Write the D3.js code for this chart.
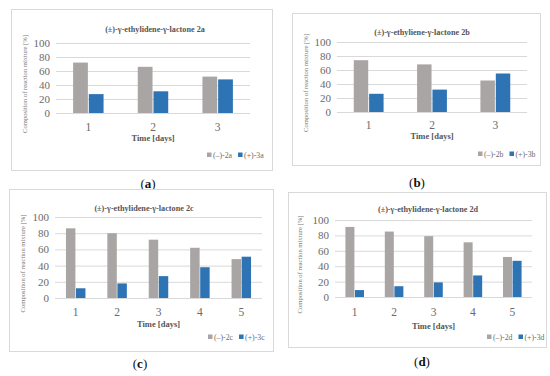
<!DOCTYPE html>
<html>
<head>
<meta charset="utf-8">
<script src="https://cdn.jsdelivr.net/npm/d3@7"></script>
<style>
  body { margin: 0; background: #fff; }
  svg { display: block; font-family: "Liberation Serif", "DejaVu Serif", serif; }
</style>
</head>
<body>
<svg id="chart" width="550" height="376"></svg>
<script>
// data
const days3 = ["1", "2", "3"];
const days5 = ["1", "2", "3", "4", "5"];
const yTicks = [0, 20, 40, 60, 80, 100];

const minus2a = [72, 66, 52];
const plus3a = [27, 31, 48];
const minus2b = [74, 68, 45];
const plus3b = [26, 32, 55];
const minus2c = [86, 80, 72, 62, 48];
const plus3c = [12, 18, 27, 38, 51];
const minus2d = [91, 85, 79, 71, 52];
const plus3d = [9, 14, 19, 28, 47];

const titles = [
  "(±)-γ-ethylidene-γ-lactone 2a",
  "(±)-γ-ethyliene-γ-lactone 2b",
  "(±)-γ-ethylidene-γ-lactone 2c",
  "(±)-γ-ethylidene-γ-lactone 2d"
];
const legendNames = [
  ["(–)-2a", "(+)-3a"],
  ["(–)-2b", "(+)-3b"],
  ["(–)-2c", "(+)-3c"],
  ["(–)-2d", "(+)-3d"]
];
const captions = ["a", "b", "c", "d"];

const colors = ["#a8a5a4", "#2e74b5"];

// layout for each of the four panels
const panels = [
  { days: days3, series: [minus2a, plus3a], frame: [11, 9, 272, 170], px: [56, 250], py: [43, 113],
    titleX: 155, titleY: 29, yLabX: 25, tickY: 127, axisY: 138, legX: 207, legY: 155, capX: 148, capY: 183 },
  { days: days3, series: [minus2b, plus3b], frame: [292, 13, 540, 165], px: [337, 527], py: [42, 112],
    titleX: 422, titleY: 32, yLabX: 306, tickY: 125, axisY: 136, legX: 478, legY: 154, capX: 417, capY: 182 },
  { days: days5, series: [minus2c, plus3c], frame: [9, 189, 273, 351], px: [55, 262], py: [217, 298],
    titleX: 144, titleY: 208, yLabX: 23, tickY: 312, axisY: 324, legX: 208, legY: 337, capX: 140, capY: 363 },
  { days: days5, series: [minus2d, plus3d], frame: [288, 192, 546, 347], px: [335, 532], py: [220, 297],
    titleX: 428, titleY: 209, yLabX: 300, tickY: 312, axisY: 326, legX: 487, legY: 337, capX: 422, capY: 361 }
];

const svg = d3.select("#chart");

panels.forEach((p, k) => {
  const g = svg.append("g").attr("class", "panel");
  const [fx0, fy0, fx1, fy1] = p.frame;

  g.append("rect")
    .attr("x", fx0 + 0.5).attr("y", fy0 + 0.5)
    .attr("width", fx1 - fx0).attr("height", fy1 - fy0)
    .attr("fill", "#fff")
    .attr("stroke", "#d9d9d9");

  const x0 = d3.scaleBand().domain(p.days).range(p.px).paddingInner(0.5).paddingOuter(0.25);
  const x1 = d3.scaleBand().domain([0, 1]).range([0, x0.bandwidth()]).padding(0.06);
  const y = d3.scaleLinear().domain([0, 100]).range([p.py[1], p.py[0]]);

  // gridlines + tick labels
  const yAxis = d3.axisLeft(y).tickValues(yTicks).tickSize(-(p.px[1] - p.px[0])).tickPadding(6);
  const ya = g.append("g").attr("transform", `translate(${p.px[0]},0)`).call(yAxis);
  ya.select(".domain").remove();
  ya.selectAll(".tick line").attr("stroke", "#d9d9d9");
  ya.selectAll(".tick text")
    .attr("fill", "#6a6a6a")
    .style("font-size", "11px")
    .style("font-family", "Liberation Serif, serif");

  // bars
  p.days.forEach((d, i) => {
    g.selectAll(null)
      .data(p.series.map((s, j) => ({ j, v: s[i] })))
      .enter()
      .append("rect")
      .attr("x", e => x0(d) + x1(e.j))
      .attr("y", e => y(e.v))
      .attr("width", x1.bandwidth())
      .attr("height", e => y(0) - y(e.v))
      .attr("fill", e => colors[e.j]);
  });

  // x tick labels
  g.selectAll(null)
    .data(p.days)
    .enter()
    .append("text")
    .attr("x", d => x0(d) + x0.bandwidth() / 2)
    .attr("y", p.tickY)
    .attr("dy", "0.35em")
    .attr("text-anchor", "middle")
    .attr("fill", "#6a6a6a")
    .style("font-size", "11.5px")
    .text(d => d);

  // titles
  g.append("text")
    .attr("x", p.titleX).attr("y", p.titleY).attr("dy", "0.35em")
    .attr("text-anchor", "middle")
    .attr("fill", "#555")
    .style("font-size", "8.2px")
    .style("font-weight", "bold")
    .text(titles[k]);

  g.append("text")
    .attr("x", (p.px[0] + p.px[1]) / 2).attr("y", p.axisY).attr("dy", "0.35em")
    .attr("text-anchor", "middle")
    .attr("fill", "#555")
    .style("font-size", "8.5px")
    .style("font-weight", "bold")
    .text("Time [days]");

  g.append("text")
    .attr("transform", `translate(${p.yLabX},${(p.py[0] + p.py[1]) / 2 + 6}) rotate(-90)`)
    .attr("dy", "0.35em")
    .attr("text-anchor", "middle")
    .attr("fill", "#777")
    .style("font-size", "6.6px")
    .text("Composition of reaction mixture [%]");

  // legend
  const leg = g.append("g").attr("transform", `translate(${p.legX},${p.legY})`);
  let lx = 0;
  legendNames[k].forEach((name, j) => {
    leg.append("rect").attr("x", lx).attr("y", -2.5).attr("width", 4.5).attr("height", 4.5).attr("fill", colors[j]);
    const t = leg.append("text")
      .attr("x", lx + 6).attr("y", 0).attr("dy", "0.35em")
      .attr("fill", "#6a6a6a")
      .style("font-size", "7.8px")
      .text(name);
    lx += 6 + t.node().getComputedTextLength() + 6;
  });

  // caption: (letter) with bold letter
  const cap = g.append("text")
    .attr("x", p.capX).attr("y", p.capY).attr("dy", "0.35em")
    .attr("text-anchor", "middle")
    .attr("fill", "#111")
    .style("font-size", "13px");
  cap.append("tspan").text("(");
  cap.append("tspan").style("font-weight", "bold").text(captions[k]);
  cap.append("tspan").text(")");
});
</script>
</body>
</html>
